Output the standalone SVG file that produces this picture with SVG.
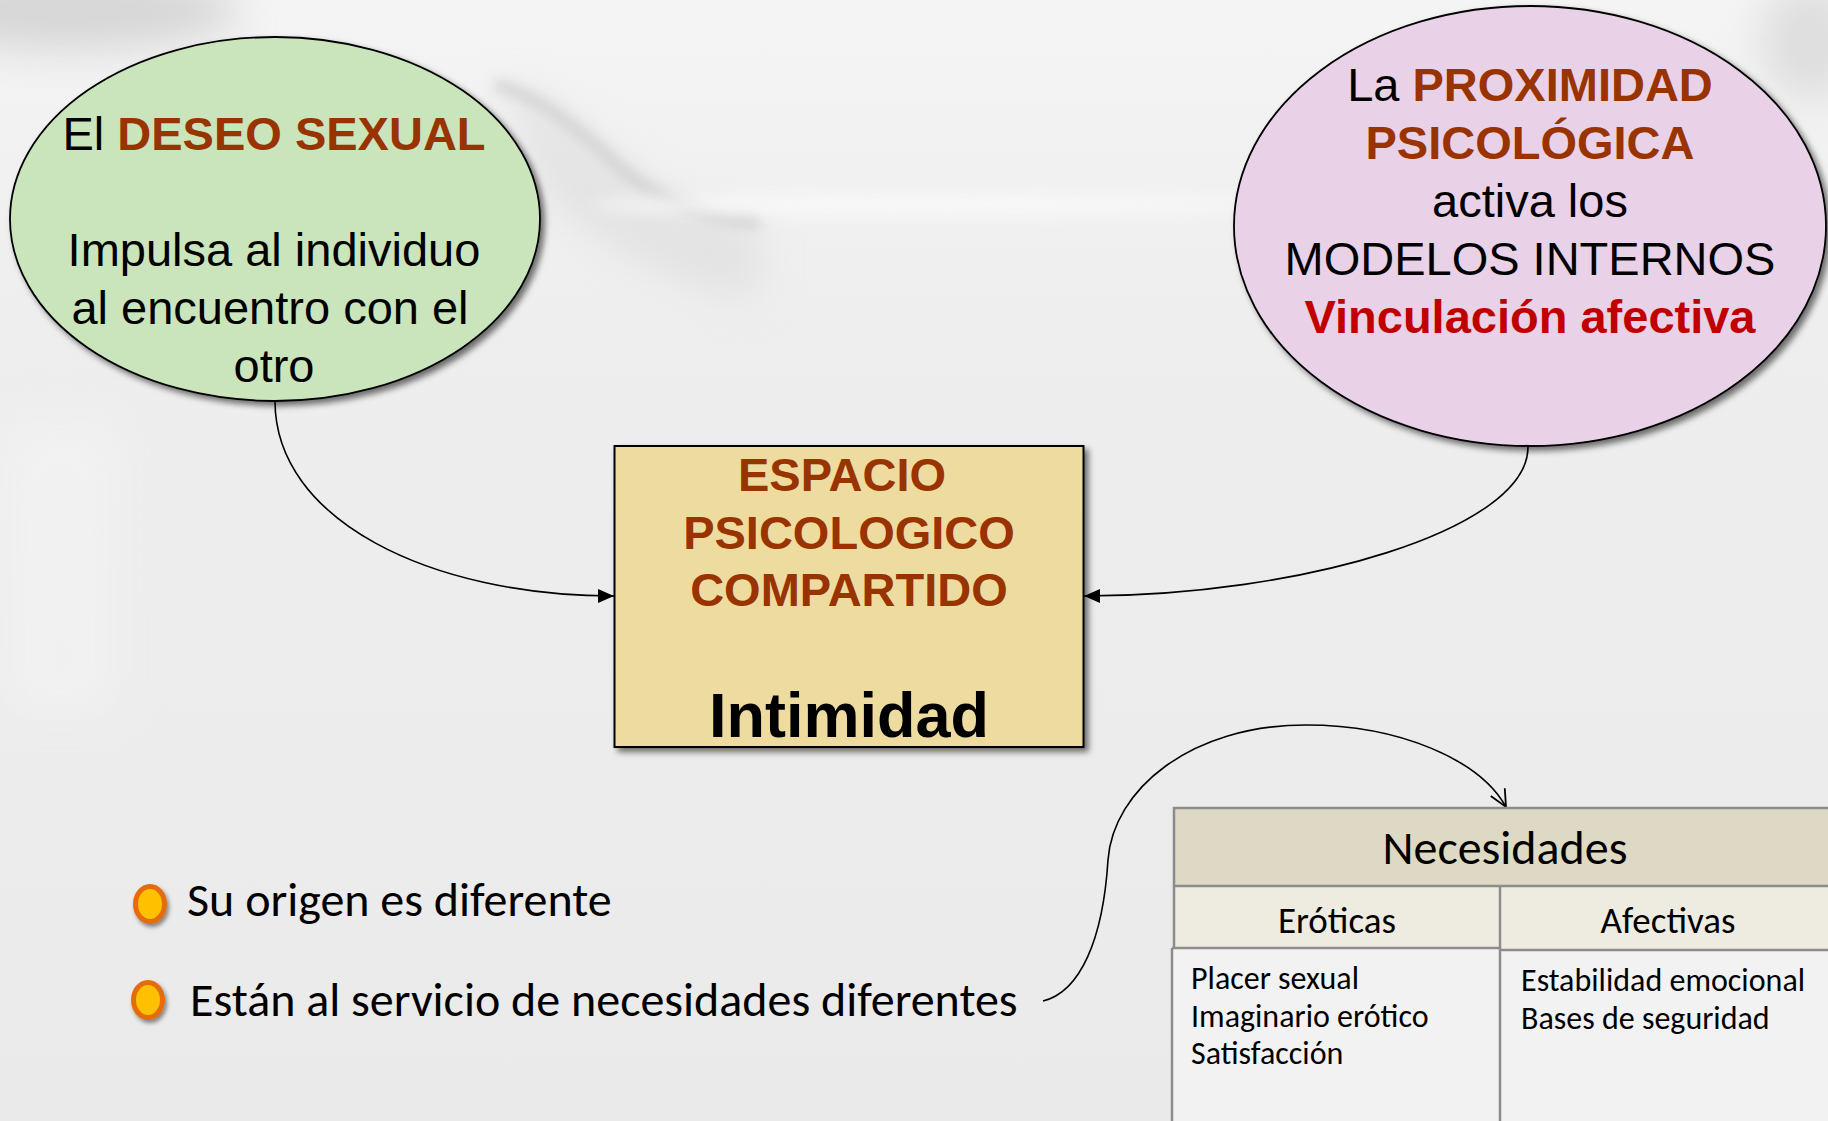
<svg xmlns="http://www.w3.org/2000/svg" width="1828" height="1121" viewBox="0 0 1828 1121">
  <defs>
    <linearGradient id="bg" x1="0" y1="0" x2="0" y2="1">
      <stop offset="0" stop-color="#F4F4F4"/>
      <stop offset="0.3" stop-color="#EEEEEE"/>
      <stop offset="1" stop-color="#EAEAEA"/>
    </linearGradient>
    <filter id="blur6" x="-50%" y="-50%" width="200%" height="200%"><feGaussianBlur stdDeviation="6"/></filter>
    <filter id="blur8" x="-50%" y="-50%" width="200%" height="200%"><feGaussianBlur stdDeviation="8"/></filter>
    <filter id="blur20" x="-50%" y="-50%" width="200%" height="200%"><feGaussianBlur stdDeviation="20"/></filter>
    <filter id="shadow" x="-10%" y="-10%" width="130%" height="130%">
      <feDropShadow dx="4" dy="4" stdDeviation="3" flood-color="#000" flood-opacity="0.55"/>
    </filter>
    <filter id="shadowS" x="-50%" y="-50%" width="200%" height="200%">
      <feDropShadow dx="2" dy="3" stdDeviation="2" flood-color="#000" flood-opacity="0.45"/>
    </filter>
    <marker id="arrowFill" viewBox="0 0 16 14" refX="16" refY="7" markerWidth="16" markerHeight="14" markerUnits="userSpaceOnUse" orient="auto">
      <path d="M0,0 L16,7 L0,14 Z" fill="#000"/>
    </marker>
    <marker id="arrowOpen" viewBox="0 0 20 20" refX="18" refY="10" markerWidth="20" markerHeight="20" markerUnits="userSpaceOnUse" orient="auto">
      <path d="M1,2 L18,10 L1,18" fill="none" stroke="#000" stroke-width="1.8"/>
    </marker>
    <style>
      .arial { font-family: "Liberation Sans", Arial, sans-serif; }
      .cal { font-family: Carlito, Calibri, "Open Sans", sans-serif; }
      .big { font-size: 47px; fill: #000; }
      .b { font-weight: bold; }
      .brown { fill: #993300; font-weight: bold; }
      .red { fill: #C00000; font-weight: bold; }
      .conn { fill: none; stroke: #000; stroke-width: 1.6; }
      .tline { stroke: #8C8C8C; stroke-width: 2.5; fill: none; }
    </style>
  </defs>

  <!-- background -->
  <rect x="0" y="0" width="1828" height="1121" fill="url(#bg)"/>
  <g id="background-texture">
    <ellipse cx="70" cy="10" rx="170" ry="40" fill="#CACACA" opacity="0.7" filter="url(#blur20)"/>
    <path d="M500,85 C540,95 580,130 620,165 C660,200 700,215 760,222 L760,300 C680,290 600,250 540,190 Z" fill="#DADADA" opacity="0.6" filter="url(#blur20)"/>
    <path d="M495,85 C540,95 585,135 625,172 C665,205 705,218 760,222" fill="none" stroke="#C8C8C8" stroke-width="14" opacity="0.6" filter="url(#blur6)"/>
    <ellipse cx="920" cy="205" rx="330" ry="10" fill="#FAFAFA" opacity="0.9" filter="url(#blur8)"/>
    <ellipse cx="1810" cy="40" rx="50" ry="60" fill="#D0D0D0" opacity="0.6" filter="url(#blur20)"/>
    <rect x="0" y="420" width="120" height="300" fill="#F5F5F5" opacity="0.5" filter="url(#blur20)"/>
  </g>

  <!-- connectors -->
  <g id="connectors">
    <path class="conn" d="M275,401 C275,520 430,596 614,596" marker-end="url(#arrowFill)"/>
    <path class="conn" d="M1528,447 C1528,530 1300,596 1084,596" marker-end="url(#arrowFill)"/>
    <path class="conn" d="M1043,1001 C1080,992 1103,940 1108,860 C1113,790 1190,725 1306,725 C1400,725 1480,760 1506,807" marker-end="url(#arrowOpen)"/>
  </g>

  <!-- green ellipse -->
  <g id="node-deseo">
    <ellipse cx="275" cy="219" rx="265" ry="182" fill="#CAE4BB" stroke="#000" stroke-width="1.8" filter="url(#shadow)"/>
    <text class="arial big" text-anchor="middle" x="274" y="150">El <tspan class="brown">DESEO SEXUAL</tspan></text>
    <text class="arial big" text-anchor="middle" x="274" y="266">Impulsa al individuo</text>
    <text class="arial big" text-anchor="middle" x="270" y="324">al encuentro con el</text>
    <text class="arial big" text-anchor="middle" x="274" y="382">otro</text>
  </g>

  <!-- pink ellipse -->
  <g id="node-proximidad">
    <ellipse cx="1530" cy="226" rx="296" ry="220" fill="#E9D1E8" stroke="#000" stroke-width="1.8" filter="url(#shadow)"/>
    <text class="arial big" text-anchor="middle" x="1530" y="101">La <tspan class="brown">PROXIMIDAD</tspan></text>
    <text class="arial big brown" text-anchor="middle" x="1530" y="159">PSICOLÓGICA</text>
    <text class="arial big" text-anchor="middle" x="1530" y="217">activa los</text>
    <text class="arial big" text-anchor="middle" x="1530" y="275">MODELOS INTERNOS</text>
    <text class="arial big red" text-anchor="middle" x="1530" y="333">Vinculación afectiva</text>
  </g>

  <!-- central box -->
  <g id="node-espacio">
    <rect x="614.5" y="446" width="469" height="301" fill="#EDDBA0" stroke="#000" stroke-width="2" filter="url(#shadow)"/>
    <text class="arial big brown" text-anchor="middle" x="842" y="491">ESPACIO</text>
    <text class="arial big brown" text-anchor="middle" x="849" y="549">PSICOLOGICO</text>
    <text class="arial big brown" text-anchor="middle" x="849" y="606">COMPARTIDO</text>
    <text class="arial b" text-anchor="middle" x="849" y="737" font-size="63" fill="#000">Intimidad</text>
  </g>

  <!-- bullets -->
  <g id="bullet-1">
    <ellipse cx="150" cy="904" rx="14.5" ry="17.5" fill="#FFC000" stroke="#E46C0A" stroke-width="5" filter="url(#shadowS)"/>
    <text class="cal" x="187" y="916" font-size="48" fill="#000">Su origen es diferente</text>
  </g>
  <g id="bullet-2">
    <ellipse cx="148" cy="1000" rx="14.5" ry="17.5" fill="#FFC000" stroke="#E46C0A" stroke-width="5" filter="url(#shadowS)"/>
    <text class="cal" x="190" y="1016" font-size="48" fill="#000">Están al servicio de necesidades diferentes</text>
  </g>

  <!-- table -->
  <g id="table-necesidades">
    <rect x="1174" y="808" width="660" height="78" fill="#DDD9C4"/>
    <rect x="1174" y="886" width="326" height="62" fill="#EEECE1"/>
    <rect x="1500" y="886" width="334" height="64" fill="#EEECE1"/>
    <rect x="1172" y="948" width="328" height="180" fill="#F2F2F2"/>
    <rect x="1500" y="950" width="334" height="178" fill="#F2F2F2"/>
    <path class="tline" d="M1174,948 V808 H1830"/>
    <path class="tline" d="M1174,886 H1830"/>
    <path class="tline" d="M1172,948 H1500"/>
    <path class="tline" d="M1500,950 H1830"/>
    <path class="tline" d="M1500,886 V1121"/>
    <path class="tline" d="M1172,948 V1121"/>
    <text class="cal" text-anchor="middle" x="1505" y="864" font-size="48" fill="#000">Necesidades</text>
    <text class="cal" text-anchor="middle" x="1337" y="933" font-size="37" fill="#000">Eróticas</text>
    <text class="cal" text-anchor="middle" x="1668" y="933" font-size="37" fill="#000">Afectivas</text>
    <text class="cal" x="1191" y="989" font-size="32" fill="#000">Placer sexual</text>
    <text class="cal" x="1191" y="1027" font-size="32" fill="#000">Imaginario erótico</text>
    <text class="cal" x="1191" y="1064" font-size="32" fill="#000">Satisfacción</text>
    <text class="cal" x="1521" y="991" font-size="32" fill="#000">Estabilidad emocional</text>
    <text class="cal" x="1521" y="1029" font-size="32" fill="#000">Bases de seguridad</text>
  </g>
</svg>
